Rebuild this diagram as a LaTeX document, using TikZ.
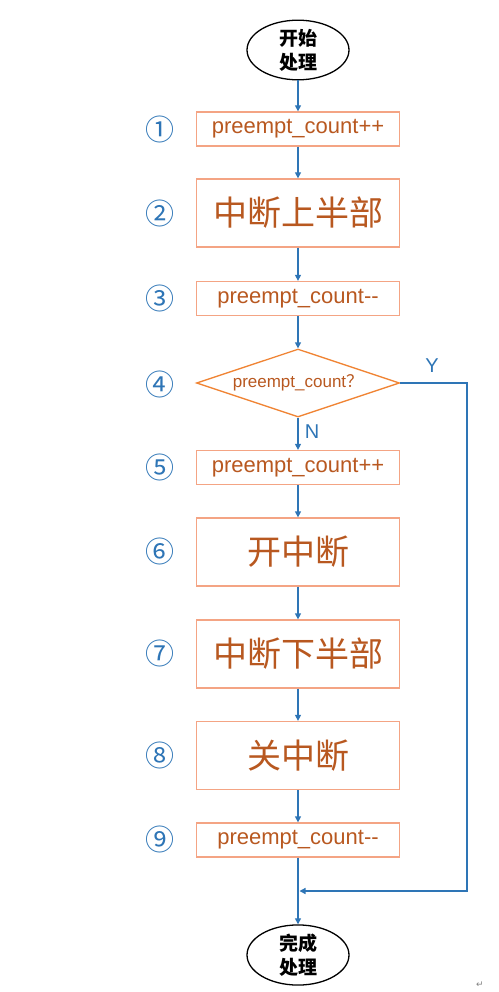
\documentclass[tikz,border=0pt]{standalone}
\usepackage{fontspec}
\setmainfont{Liberation Sans}
\newfontfamily\cjk{Noto Sans CJK SC}
\newfontfamily\symfont{DejaVu Sans}
\usetikzlibrary{shapes.geometric,arrows.meta}

\definecolor{boxline}{RGB}{244,164,132}
\definecolor{boxtext}{RGB}{184,88,32}
\definecolor{decline}{RGB}{240,132,52}
\definecolor{flowblue}{RGB}{46,117,182}

\tikzset{
  smallbox/.style={draw=boxline,line width=1.3pt,minimum width=203pt,minimum height=34pt,inner sep=0pt,
    text=boxtext,font=\fontsize{22}{24}\selectfont},
  bigbox/.style={smallbox,minimum height=68pt,font=\cjk\fontsize{34}{38}\selectfont},
  decbox/.style={diamond,draw=decline,line width=1.3pt,aspect=3,minimum width=203pt,minimum height=68pt,
    inner sep=0pt,text=boxtext,font=\fontsize{17}{20}\selectfont},
  endbox/.style={ellipse,draw=black,line width=1.3pt,minimum width=102pt,minimum height=58pt,inner sep=0pt,
    align=center,font=\cjk\bfseries\fontsize{19}{24}\selectfont},
  num/.style={text=flowblue,font=\cjk\fontsize{29}{30}\selectfont},
  arr/.style={draw=flowblue,line width=1.3pt,-{Triangle[width=6pt,length=6pt]}}
}

\begin{document}
\begin{tikzpicture}[x=1pt,y=-1pt]
  \useasboundingbox (0,0) rectangle (498,992);

  % flow nodes
  \node[endbox] (start) at (298,50) {开始\\处理};
  \node[smallbox] (b1) at (298,129) {preempt\_count++};
  \node[bigbox] (b2) at (298,213) {中断上半部};
  \node[smallbox] (b3) at (298,298.5) {preempt\_count-{}-};
  \node[decbox] (dec) at (298,383) {preempt\_count{\cjk？}};
  \node[smallbox] (b5) at (298,467.5) {preempt\_count++};
  \node[bigbox] (b6) at (298,552) {开中断};
  \node[bigbox] (b7) at (298,654) {中断下半部};
  \node[bigbox] (b8) at (298,755.5) {关中断};
  \node[smallbox] (b9) at (298,840) {preempt\_count-{}-};
  \node[endbox] (stop) at (298,955) {完成\\处理};

  % step numbers
  \node[num] (n1) at (160,129) {①};
  \node[num] (n2) at (160,213) {②};
  \node[num] (n3) at (160,298.5) {③};
  \node[num] (n4) at (160,384) {④};
  \node[num] (n5) at (160,467.5) {⑤};
  \node[num] (n6) at (160,551) {⑥};
  \node[num] (n7) at (160,653) {⑦};
  \node[num] (n8) at (160,755.5) {⑧};
  \node[num] (n9) at (160,839) {⑨};

  % connectors
  \draw[arr] (start) -- (b1);
  \draw[arr] (b1) -- (b2);
  \draw[arr] (b2) -- (b3);
  \draw[arr] (b3) -- (dec);
  \draw[arr] (dec) -- (b5);
  \draw[arr] (b5) -- (b6);
  \draw[arr] (b6) -- (b7);
  \draw[arr] (b7) -- (b8);
  \draw[arr] (b8) -- (b9);
  \draw[arr] (b9) -- (stop);

  % bypass when count is set
  \coordinate (back) at (467,891);
  \coordinate (join) at (299.5,891);
  \draw[arr] (dec.east) -| (back) -- (join);
  \node[text=flowblue,font=\fontsize{20}{22}\selectfont] (ylab) at (432,366) {Y};
  \node[text=flowblue,font=\fontsize{20}{22}\selectfont] (nlab) at (312,432) {N};

  \node[text=gray,font=\symfont\fontsize{9}{10}\selectfont] (mark) at (480,985) {↵};
\end{tikzpicture}
\end{document}
